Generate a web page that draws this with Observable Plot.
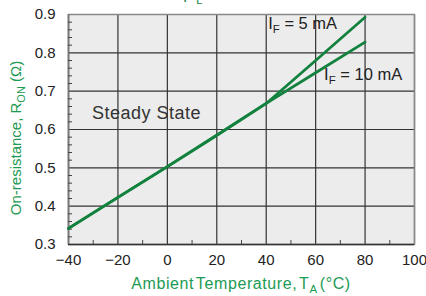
<!DOCTYPE html>
<html><head><meta charset="utf-8">
<script src="https://cdn.jsdelivr.net/npm/d3@7"></script>
<script src="https://cdn.jsdelivr.net/npm/@observablehq/plot@0.6"></script>
<style>
body{margin:0;background:#fff;font-family:"Liberation Sans",Arial,sans-serif;}
#wrap{position:relative;width:426px;height:296px;overflow:hidden}
</style></head><body><div id="wrap"></div>
<script>
const temps = [-40, -20, 0, 20, 40, 60, 80];
const ron5mA = [0.342, 0.423, 0.503, 0.585, 0.668, 0.780, 0.893];
const ron10mA = [0.342, 0.423, 0.503, 0.585, 0.668, 0.748, 0.828];
const xTicks = [-40, -20, 0, 20, 40, 60, 80, 100];
const yTicks = [0.3, 0.4, 0.5, 0.6, 0.7, 0.8, 0.9];
const xMinor = [-30, -10, 10, 30, 50, 70, 90];
const yMinor = [0.32,0.34,0.36,0.38,0.42,0.44,0.46,0.48,0.52,0.54,0.56,0.58,0.62,0.64,0.66,0.68,0.72,0.74,0.76,0.78,0.82,0.84,0.86,0.88];
const noteText = ["Steady State"];
const noteX = [-30.5];
const noteY = [0.642];
const seriesNames = ["5 mA", "10 mA"];
const seriesLabelX = [41.0, 63.6];
const seriesLabelY = [0.861, 0.727];

const green = "#13823e";
const labelGreen = "#1c9a52";

const rows = [];
temps.forEach((t, i) => rows.push({t, r: ron5mA[i], s: seriesNames[0]}));
temps.forEach((t, i) => rows.push({t, r: ron10mA[i], s: seriesNames[1]}));
const notes = noteText.map((s, i) => ({s, x: noteX[i], y: noteY[i]}));

const chart = Plot.plot({
  width: 426, height: 296,
  marginLeft: 68, marginRight: 12, marginTop: 14, marginBottom: 52,
  style: {fontFamily: "Liberation Sans, Arial, sans-serif", fontSize: "15px", color: "#222", background: "transparent", overflow: "visible"},
  x: {domain: [-40, 100]},
  y: {domain: [0.3, 0.9]},
  marks: [
    Plot.frame({fill: "#ececec", stroke: null}),
    Plot.gridX(xTicks, {stroke: "#333", strokeOpacity: 1, strokeWidth: 1.2}),
    Plot.gridY(yTicks, {stroke: "#333", strokeOpacity: 1, strokeWidth: 1.2}),
    Plot.frame({stroke: "#888", strokeWidth: 1.5}),
    Plot.ruleY([0.3], {stroke: "#333", strokeWidth: 1.5}),
    Plot.ruleX([-40], {stroke: "#777", strokeWidth: 1.5}),
    Plot.axisX({ticks: xMinor, tickSize: -4, tickFormat: () => "", stroke: "#444", label: null}),
    Plot.axisY({ticks: yMinor, tickSize: -4, tickFormat: () => "", stroke: "#444", label: null}),
    Plot.axisX({ticks: xTicks, tickSize: 0, tickPadding: 10, fontSize: 15, fill: "#222", label: null}),
    Plot.axisY({ticks: yTicks, tickSize: 0, tickPadding: 13, fontSize: 15, fill: "#222", label: null, tickFormat: d3.format(".1f")}),
    Plot.line(rows, {x: "t", y: "r", z: "s", stroke: green, strokeWidth: 2.8}),
    Plot.text(notes, {x: "x", y: "y", text: "s", textAnchor: "start", fontSize: 18, fill: "#333", className: "note"})
  ]
});
document.getElementById("wrap").appendChild(chart);

const svg = d3.select(chart);
svg.selectAll(".note text").attr("letter-spacing", 0.5);
const xs = chart.scale("x"), ys = chart.scale("y");
const ff = "Liberation Sans, Arial, sans-serif";

// series labels
seriesNames.forEach((n, i) => {
  const t = svg.append("text")
    .attr("text-anchor", "start")
    .attr("x", xs.apply(seriesLabelX[i])).attr("y", ys.apply(seriesLabelY[i]))
    .attr("font-family", ff).attr("font-size", 16.5).attr("fill", "#222");
  t.append("tspan").text("I");
  t.append("tspan").attr("font-size", 11.5).attr("dy", 4).text("F");
  t.append("tspan").attr("dy", -4).text(" = " + n);
});

// y label
const yl = svg.append("text")
  .attr("transform", "translate(21,138) rotate(-90)")
  .attr("text-anchor", "middle")
  .attr("font-family", ff).attr("font-size", 15).attr("fill", labelGreen);
yl.append("tspan").text("On-resistance, R");
yl.append("tspan").attr("font-size", 11).attr("dy", 4).text("ON");
yl.append("tspan").attr("dy", -4).text(" (Ω)");

// x label
const xl = svg.append("text")
  .attr("x", 241).attr("y", 289)
  .attr("text-anchor", "middle")
  .attr("font-family", ff).attr("font-size", 16).attr("fill", labelGreen)
  .attr("letter-spacing", 0.6).attr("word-spacing", -3);
xl.append("tspan").text("Ambient Temperature, T");
xl.append("tspan").attr("font-size", 11.5).attr("dy", 4).text("A");
xl.append("tspan").attr("dy", -4).text(" (°C)");

// cropped title fragment at the top
const tt = svg.append("text")
  .attr("text-anchor", "start")
  .attr("x", 183).attr("y", 2)
  .attr("font-family", ff).attr("font-size", 15).attr("fill", green);
tt.append("tspan").text("I");
tt.append("tspan").attr("font-size", 11).attr("dx", 9).attr("dy", 2).text("L");
</script></body></html>
